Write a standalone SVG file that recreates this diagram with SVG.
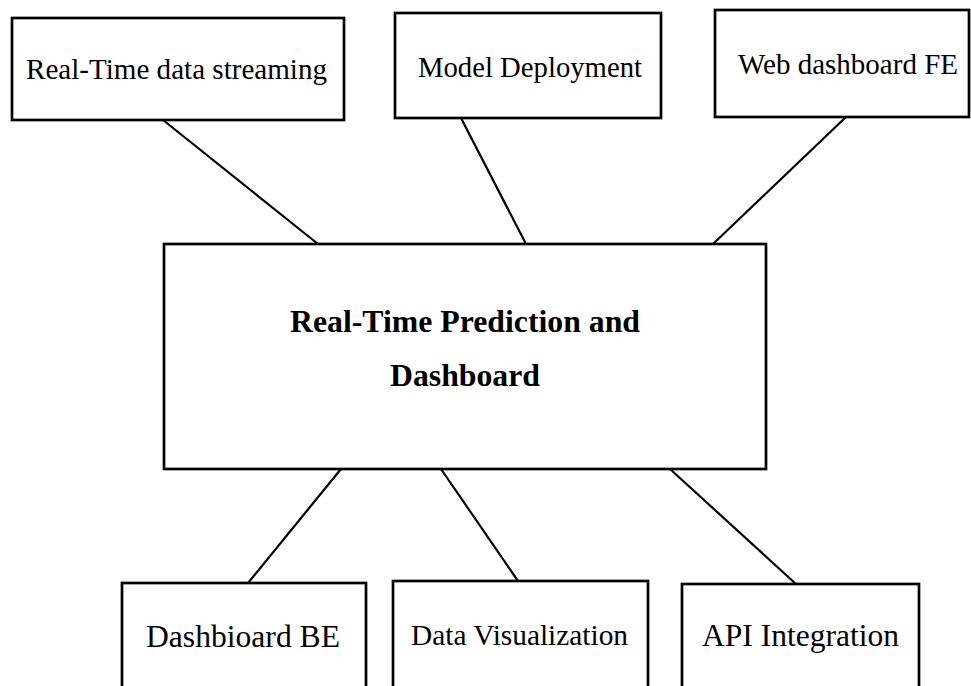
<svg xmlns="http://www.w3.org/2000/svg" width="971" height="686" viewBox="0 0 971 686">
  <style>
    .box { fill: #ffffff; stroke: #000000; stroke-width: 2.7; }
    .link { stroke: #000000; stroke-width: 2.2; fill: none; }
    .label { font-family: "Liberation Serif", "Times New Roman", serif; font-size: 29px; fill: #000000; }
    .label.big { font-size: 31px; }
    .title { font-family: "Liberation Serif", "Times New Roman", serif; font-size: 32px; font-weight: bold; fill: #000000; }
  </style>
  <rect x="0" y="0" width="971" height="686" fill="#ffffff"/>

  <!-- connectors between the hub and its satellites -->
  <g id="connectors">
    <line class="link" x1="163" y1="120" x2="318" y2="244"/>
    <line class="link" x1="461" y1="118" x2="526" y2="244"/>
    <line class="link" x1="846" y1="117" x2="713" y2="244"/>
    <line class="link" x1="341" y1="469" x2="248" y2="583"/>
    <line class="link" x1="441" y1="469" x2="518" y2="581"/>
    <line class="link" x1="670" y1="469" x2="796" y2="584"/>
  </g>

  <g id="node-streaming">
    <rect class="box" x="12" y="18" width="332" height="102"/>
    <text class="label" x="26" y="79" textLength="301" lengthAdjust="spacingAndGlyphs">Real-Time data streaming</text>
  </g>

  <g id="node-deployment">
    <rect class="box" x="395" y="13" width="266" height="105"/>
    <text class="label" x="418" y="77" textLength="224" lengthAdjust="spacingAndGlyphs">Model Deployment</text>
  </g>

  <g id="node-web-fe">
    <rect class="box" x="715" y="10" width="254" height="107"/>
    <text class="label" x="738" y="74" textLength="220" lengthAdjust="spacingAndGlyphs">Web dashboard FE</text>
  </g>

  <g id="node-hub">
    <rect class="box" x="164" y="244" width="602" height="225"/>
    <text class="title" x="290" y="332" textLength="350" lengthAdjust="spacingAndGlyphs">Real-Time Prediction and</text>
    <text class="title" x="390" y="386" textLength="150" lengthAdjust="spacingAndGlyphs">Dashboard</text>
  </g>

  <g id="node-dashboard-be">
    <rect class="box" x="122" y="583" width="244" height="120"/>
    <text class="label big" x="146" y="647" textLength="194" lengthAdjust="spacingAndGlyphs">Dashbioard BE</text>
  </g>

  <g id="node-visualization">
    <rect class="box" x="393" y="581" width="255" height="120"/>
    <text class="label" x="411" y="645" textLength="217" lengthAdjust="spacingAndGlyphs">Data Visualization</text>
  </g>

  <g id="node-api">
    <rect class="box" x="682" y="584" width="237" height="120"/>
    <text class="label big" x="702" y="646" textLength="197" lengthAdjust="spacingAndGlyphs">API Integration</text>
  </g>
</svg>
